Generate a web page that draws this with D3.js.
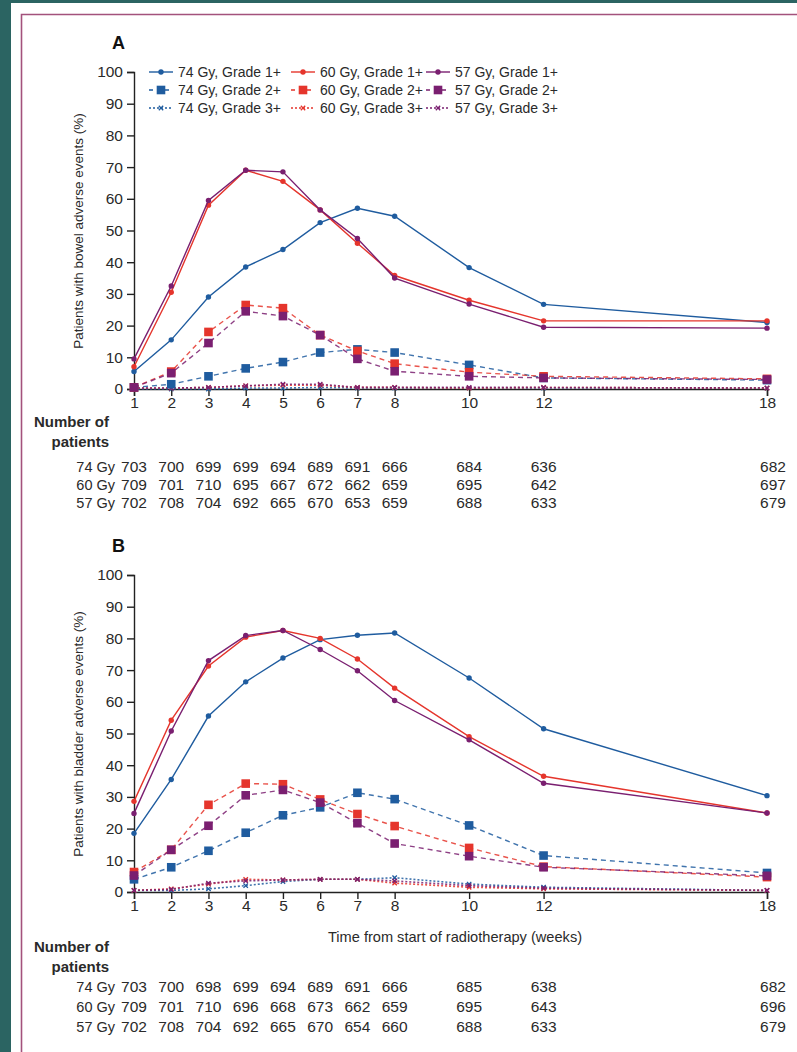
<!DOCTYPE html>
<html><head><meta charset="utf-8">
<script src="https://cdn.jsdelivr.net/npm/d3@7"></script>
<style>
html,body{margin:0;padding:0;background:#2b6462;}
svg{display:block;}
text{font-family:"Liberation Sans",Arial,sans-serif;fill:#2a2a2a;}
</style></head>
<body><svg id="c" width="797" height="1052"></svg>
<script>
// ---------- data ----------
const weeks = [1,2,3,4,5,6,7,8,10,12,18];
const xTicks = [1,2,3,4,5,6,7,8,10,12,18];
const yTicks = [0,10,20,30,40,50,60,70,80,90,100];
const doses = ["74 Gy","60 Gy","57 Gy"];
const grades = ["Grade 1+","Grade 2+","Grade 3+"];

// Panel A: bowel
const bowel74G1 = [5.5,15.5,29,38.5,44,52.5,57,54.5,38.3,26.7,21];
const bowel60G1 = [7,30.5,58,69,65.5,56.5,46,35.8,28,21.5,21.5];
const bowel57G1 = [9.5,32.5,59.5,69,68.5,56.5,47.5,35,26.8,19.5,19.2];
const bowel74G2 = [0.5,1.5,4,6.5,8.5,11.5,12.5,11.5,7.6,3.5,2.8];
const bowel60G2 = [0.5,5.5,18,26.5,25.5,17,12,8,5.3,4,3.2];
const bowel57G2 = [0.5,5,14.5,24.5,23,17,9.5,5.6,4,3.5,3];
const bowel74G3 = [0,0,0,0.3,0.3,0.5,0.3,0.3,0.3,0.3,0.3];
const bowel60G3 = [0.3,0.3,0.5,1,1.2,1.2,0.5,0.5,0.3,0.5,0.3];
const bowel57G3 = [0.3,0.3,0.5,1,1.5,1.5,0.5,0.5,0.5,0.5,0.3];

// Panel B: bladder
const bladder74G1 = [18.5,35.5,55.5,66.3,73.8,79.6,81,81.7,67.5,51.5,30.4];
const bladder60G1 = [28.6,54.2,71.3,80.4,82.5,80,73.5,64.3,49,36.5,24.9];
const bladder57G1 = [24.8,50.8,73,80.9,82.5,76.5,69.8,60.4,48,34.3,24.9];
const bladder74G2 = [4,7.8,13,18.7,24.2,26.7,31.3,29.3,21,11.5,6];
const bladder60G2 = [6.3,13.3,27.5,34.2,34,29.2,24.6,20.8,13.9,8,4.7];
const bladder57G2 = [5.2,13.3,20.9,30.5,32.2,28.2,21.7,15.3,11.3,7.8,5.1];
const bladder74G3 = [0.5,0.5,1,2,3.3,4,4,4.5,2.5,1.5,0.5];
const bladder60G3 = [0.5,1,2.5,4,3.8,4,4,2.8,1.5,1,0.5];
const bladder57G3 = [0.5,0.8,2.8,3.5,3.8,4,4,3.5,2,1.2,0.5];

// Number of patients
const bowelN74 = [703,700,699,699,694,689,691,666,684,636,682];
const bowelN60 = [709,701,710,695,667,672,662,659,695,642,697];
const bowelN57 = [702,708,704,692,665,670,653,659,688,633,679];
const bladderN74 = [703,700,698,699,694,689,691,666,685,638,682];
const bladderN60 = [709,701,710,696,668,673,662,659,695,643,696];
const bladderN57 = [702,708,704,692,665,670,654,660,688,633,679];

// ---------- style ----------
const colors = {"74 Gy":"#1f5c9f","60 Gy":"#e5352c","57 Gy":"#7a1f70"};
const dashes = {"Grade 1+":null,"Grade 2+":"5,4","Grade 3+":"2,2"};

const svg = d3.select("#c");
svg.append("rect").attr("x",11).attr("y",3).attr("width",797-11).attr("height",1052-3).attr("fill","#ffffff");
svg.append("path").attr("d","M21.5,1052 V14.5 H797").attr("fill","none").attr("stroke","#a3527c").attr("stroke-width",1.6);

const x = d3.scaleLinear().domain([1,18]).range([134,767]);

function drawMarker(g, type, cx, cy, color){
  if(type==="Grade 1+"){
    g.append("circle").attr("cx",cx).attr("cy",cy).attr("r",2.7).attr("fill",color);
  } else if(type==="Grade 2+"){
    g.append("rect").attr("x",cx-4.3).attr("y",cy-4.3).attr("width",8.6).attr("height",8.6).attr("fill",color);
  } else {
    g.append("path").attr("d",`M${cx-2.2},${cy-2.2}L${cx+2.2},${cy+2.2}M${cx-2.2},${cy+2.2}L${cx+2.2},${cy-2.2}`)
      .attr("stroke",color).attr("stroke-width",1.3);
  }
}

function panel(opt){
  const y = d3.scaleLinear().domain([0,100]).range([opt.y0, opt.y0-317]);
  const g = svg.append("g");
  // label
  g.append("text").attr("x",112).attr("y",opt.y0-317-23).text(opt.letter)
    .style("font-size","18px").style("font-weight","bold").style("fill","#111");
  // y axis
  const ya = g.append("g").attr("transform","translate(134,0)")
    .call(d3.axisLeft(y).tickValues(yTicks).tickSize(7).tickPadding(4));
  ya.select(".domain").attr("stroke","#222").attr("stroke-width",1.4);
  ya.selectAll(".tick line").attr("stroke","#222").attr("stroke-width",1.4);
  ya.selectAll("text").style("font-size","15.5px").style("font-family","Liberation Sans,Arial,sans-serif").attr("fill","#333");
  // x axis
  const xa = g.append("g").attr("transform",`translate(0,${opt.y0})`)
    .call(d3.axisBottom(x).tickValues(xTicks).tickSize(7).tickPadding(1).tickFormat(d3.format("d")));
  xa.select(".domain").attr("stroke","#222").attr("stroke-width",1.4);
  xa.selectAll(".tick line").attr("stroke","#222").attr("stroke-width",1.4);
  xa.selectAll("text").style("font-size","15.5px").style("font-family","Liberation Sans,Arial,sans-serif").attr("fill","#333");
  // y title
  g.append("text").attr("transform",`translate(83,${opt.y0-158}) rotate(-90)`)
    .attr("text-anchor","middle").style("font-size","13.5px").attr("fill","#333").text(opt.ytitle);

  const line = d3.line().x((d,i)=>x(weeks[i])).y(d=>y(d));
  const order = [["Grade 3+",2],["Grade 2+",1],["Grade 1+",0]];
  order.forEach(([gr,gi])=>{
    doses.forEach((ds,di)=>{
      const vals = opt.series[gi][di];
      const c = colors[ds];
      g.append("path").datum(vals).attr("d",line).attr("fill","none")
        .attr("stroke",c).attr("stroke-width",gr==="Grade 3+"?1.6:1.4)
        .attr("stroke-dasharray",dashes[gr]).attr("opacity",gr==="Grade 1+"?1:0.85);
      vals.forEach((v,i)=>drawMarker(g,gr,x(weeks[i]),y(v),c));
    });
  });

  // number at risk table
  const t = opt.tableY;
  g.append("text").attr("x",109).attr("y",t).attr("text-anchor","end")
    .style("font-size","15px").style("font-weight","bold").attr("fill","#222").text("Number of");
  g.append("text").attr("x",109).attr("y",t+20).attr("text-anchor","end")
    .style("font-size","15px").style("font-weight","bold").attr("fill","#222").text("patients");
  opt.counts.forEach((row,ri)=>{
    const ry = t+opt.rowOff+ri*opt.rowGap;
    g.append("text").attr("x",115).attr("y",ry).attr("text-anchor","end")
      .style("font-size","14.5px").attr("fill","#333").text(doses[ri]);
    row.forEach((n,i)=>{
      g.append("text").attr("x",x(weeks[i])+(weeks[i]===18?6:0)).attr("y",ry).attr("text-anchor","middle")
        .style("font-size","15.5px").attr("fill","#333").text(n);
    });
  });
}

panel({letter:"A", y0:389, ytitle:"Patients with bowel adverse events (%)",
  series:[[bowel74G1,bowel60G1,bowel57G1],[bowel74G2,bowel60G2,bowel57G2],[bowel74G3,bowel60G3,bowel57G3]],
  tableY:427, rowOff:45, rowGap:18, counts:[bowelN74,bowelN60,bowelN57]});
panel({letter:"B", y0:892, ytitle:"Patients with bladder adverse events (%)",
  series:[[bladder74G1,bladder60G1,bladder57G1],[bladder74G2,bladder60G2,bladder57G2],[bladder74G3,bladder60G3,bladder57G3]],
  tableY:952, rowOff:40, rowGap:20, counts:[bladderN74,bladderN60,bladderN57]});

svg.append("text").attr("x",455).attr("y",942).attr("text-anchor","middle")
  .style("font-size","14.6px").attr("fill","#333").text("Time from start of radiotherapy (weeks)");

// legend
const legX = [149,291,426];
const legY = [72,90,108];
const lg = svg.append("g");
doses.forEach((ds,di)=>{
  grades.forEach((gr,gi)=>{
    const lx = legX[di], ly = legY[gi], c = colors[ds];
    if(gr==="Grade 1+"){
      lg.append("line").attr("x1",lx).attr("x2",lx+24).attr("y1",ly).attr("y2",ly).attr("stroke",c).attr("stroke-width",1.4);
    } else if(gr==="Grade 2+"){
      lg.append("line").attr("x1",lx).attr("x2",lx+24).attr("y1",ly).attr("y2",ly).attr("stroke",c).attr("stroke-width",1.4).attr("stroke-dasharray","4,4");
    } else {
      lg.append("line").attr("x1",lx).attr("x2",lx+24).attr("y1",ly).attr("y2",ly).attr("stroke",c).attr("stroke-width",1.4).attr("stroke-dasharray","2,2");
    }
    drawMarker(lg,gr,lx+12,ly,c);
    lg.append("text").attr("x",lx+29).attr("y",ly+5).style("font-size","14px").attr("fill","#333").text(`${ds}, ${gr}`);
  });
});
</script></body></html>
